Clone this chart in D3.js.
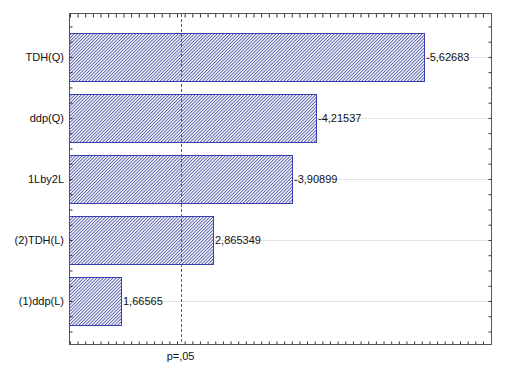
<!DOCTYPE html>
<html><head><meta charset="utf-8">
<script src="https://cdn.jsdelivr.net/npm/d3@7"></script>
<style>body{margin:0;background:#fff}svg{display:block}</style>
</head><body>
<script>
const categories = ["TDH(Q)", "ddp(Q)", "1Lby2L", "(2)TDH(L)", "(1)ddp(L)"];
const values = [-5.62683, -4.21537, -3.90899, 2.865349, 1.66565];
const valueLabels = ["-5,62683", "-4,21537", "-3,90899", "2,865349", "1,66565"];
const pCritical = 2.446912;
const pLabel = "p=,05";

const W = 512, H = 367;
const L = 69, R = 491, T = 13, B = 344;
const svg = d3.select("body").append("svg").attr("width", W).attr("height", H)
  .style("font-family", "Liberation Sans, Arial, sans-serif");

const x = d3.scaleLinear().domain([0.988, 6.505]).range([L, R]);
const y = d3.scaleLinear().domain([-0.72, 4.705]).range([T, B]);
const barH = 0.79;

const defs = svg.append("defs");
const pat = defs.append("pattern").attr("id", "hatch").attr("patternUnits", "userSpaceOnUse")
  .attr("width", 2.3).attr("height", 10).attr("patternTransform", "rotate(45)");
pat.append("rect").attr("width", 2.3).attr("height", 10).attr("fill", "#ffffff");
pat.append("rect").attr("width", 0.95).attr("height", 10).attr("fill", "#5258aa");

// grid lines at category centers
svg.append("g").selectAll("line").data(categories).join("line")
  .attr("x1", L).attr("x2", R)
  .attr("y1", (d, i) => Math.round(y(i)) + 0.5).attr("y2", (d, i) => Math.round(y(i)) + 0.5)
  .attr("stroke", "#e2e2e2").attr("stroke-width", 1);

// bars
svg.append("g").selectAll("rect").data(values).join("rect")
  .attr("x", L + 0.5)
  .attr("y", (d, i) => Math.round(y(i - barH / 2)) + 0.5)
  .attr("width", d => Math.round(x(Math.abs(d))) - L)
  .attr("height", (d, i) => Math.round(y(i + barH / 2)) - Math.round(y(i - barH / 2)))
  .attr("fill", "url(#hatch)").attr("stroke", "#3a3fb0").attr("stroke-width", 1);

// value labels
svg.append("g").selectAll("text").data(values).join("text")
  .attr("x", d => Math.round(x(Math.abs(d))) + 2)
  .attr("y", (d, i) => y(i) + 4)
  .attr("font-size", 11).attr("fill", "#111")
  .text((d, i) => valueLabels[i]);

// category labels
svg.append("g").selectAll("text").data(categories).join("text")
  .attr("x", 64).attr("y", (d, i) => y(i) + 4)
  .attr("text-anchor", "end").attr("font-size", 11).attr("fill", "#111")
  .text(d => d);

// axes (ticks only, no labels)
const xt = d3.range(1.0, 6.5, 0.1);
const yt = d3.range(-0.5, 4.71, 0.25);
const axTop = d3.axisTop(x).tickValues(xt).tickSize(-4).tickFormat("");
const axBot = d3.axisBottom(x).tickValues(xt).tickSize(-3).tickFormat("");
const axL = d3.axisLeft(y).tickValues(yt).tickSize(-3).tickFormat("");
const axR = d3.axisRight(y).tickValues(yt).tickSize(-3).tickFormat("");
[[axTop, `translate(0,${T + 0.5})`], [axBot, `translate(0,${B + 0.5})`],
 [axL, `translate(${L + 0.5},0)`], [axR, `translate(${R + 0.5},0)`]].forEach(([a, t]) => {
  const g = svg.append("g").attr("transform", t).call(a);
  g.select(".domain").remove();
  g.selectAll("line").attr("stroke", "#333").attr("stroke-width", 1);
});

// frame
svg.append("rect").attr("x", L + 0.5).attr("y", T + 0.5).attr("width", R - L).attr("height", B - T)
  .attr("fill", "none").attr("stroke", "#555").attr("stroke-width", 1);

// p critical line as red dashes
const px = Math.round(x(pCritical));
svg.append("g").selectAll("rect").data(d3.range(T + 1, B, 5)).join("rect")
  .attr("x", px).attr("y", d => d).attr("width", 1)
  .attr("height", d => Math.min(3, B - d))
  .attr("fill", "#e0203a");

svg.append("text").attr("x", x(pCritical)).attr("y", 360)
  .attr("text-anchor", "middle").attr("font-size", 11).attr("fill", "#111").text(pLabel);
</script>
</body></html>
